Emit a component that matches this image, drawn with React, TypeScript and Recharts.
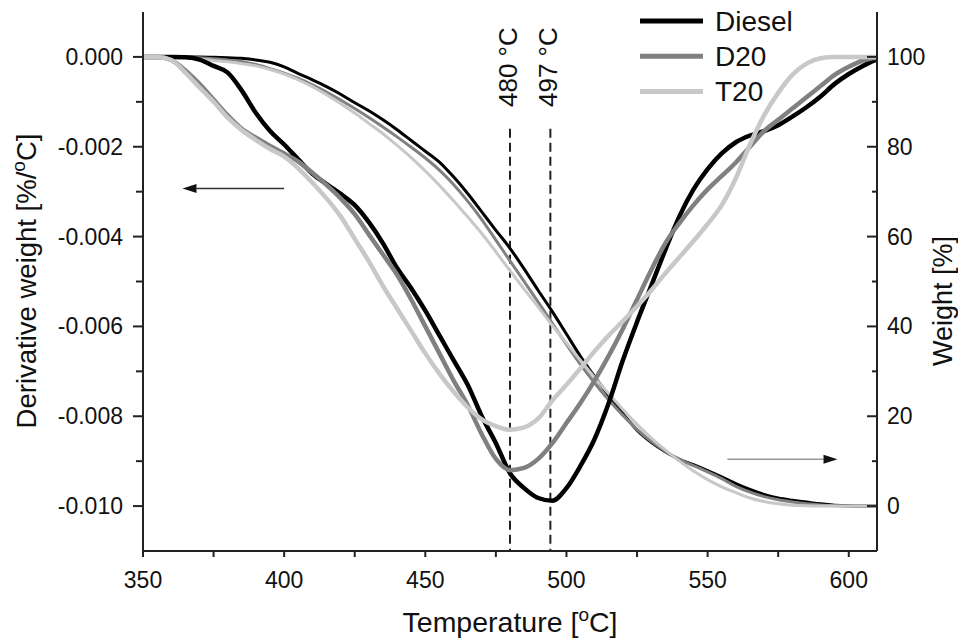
import React from 'react'
import { LineChart, Line, XAxis, YAxis, ReferenceLine, Legend } from 'recharts'

const FONT = '"Liberation Sans", Arial, sans-serif'

// temperature grid, °C
const temps = [
  350, 355, 360, 365, 370, 375, 380, 385, 390, 395, 400, 405, 410, 415, 420, 425, 430, 435,
  440, 445, 450, 455, 460, 465, 470, 475, 480, 485, 490, 495, 500, 505, 510, 515, 520, 525,
  530, 535, 540, 545, 550, 555, 560, 565, 570, 575, 580, 585, 590, 595, 600, 605, 610,
]

// derivative weight, %/°C (left axis)
const dtgDiesel = [
  0, 0, 0, -0.00001, -0.00006, -0.0002, -0.00035, -0.00075, -0.00125, -0.00165, -0.00195,
  -0.00228, -0.0026, -0.00283, -0.00305, -0.0033, -0.00368, -0.00415, -0.0047, -0.00515,
  -0.00565, -0.0062, -0.00675, -0.0073, -0.008, -0.0086, -0.00927, -0.0096, -0.00982, -0.00988,
  -0.0096, -0.0091, -0.0085, -0.0077, -0.00675, -0.0059, -0.0051, -0.0043, -0.00355,
  -0.00295, -0.0025, -0.00215, -0.0019, -0.00175, -0.00165, -0.00152, -0.00133, -0.00112,
  -0.00088, -0.0006, -0.00038, -0.0002, -0.00005,
]
const dtgD20 = [
  0, 0, -0.00007, -0.0003, -0.0006, -0.00095, -0.0013, -0.0016, -0.0018, -0.00198, -0.00215,
  -0.00233, -0.00258, -0.00285, -0.00315, -0.0035, -0.00395, -0.0044, -0.00485, -0.0054,
  -0.006, -0.0066, -0.0072, -0.00775, -0.0084, -0.00895, -0.0092, -0.00915, -0.00895, -0.0086,
  -0.00815, -0.0077, -0.0072, -0.00665, -0.00605, -0.0054, -0.00475, -0.00415, -0.0037,
  -0.0033, -0.00295, -0.00265, -0.00235, -0.002, -0.00165, -0.0014, -0.00115, -0.0009,
  -0.00065, -0.0004, -0.00022, -0.00008, -0.00002,
]
const dtgT20 = [
  0, 0, -0.00007, -0.00035, -0.00068, -0.001, -0.00135, -0.00163, -0.00185, -0.00205,
  -0.00222, -0.00248, -0.0028, -0.00315, -0.00355, -0.00405, -0.00455, -0.0051, -0.0056,
  -0.0061, -0.0066, -0.00705, -0.00745, -0.0078, -0.00807, -0.00822, -0.0083, -0.00825,
  -0.00805, -0.00765, -0.0073, -0.00693, -0.00655, -0.0062, -0.00588, -0.00555, -0.0052,
  -0.00482, -0.00446, -0.0041, -0.00372, -0.0033, -0.0027, -0.00195, -0.0013, -0.0008,
  -0.0004, -0.00015, -0.00003, 0, 0, 0, 0,
]

// weight, % (right axis)
const tgDiesel = [
  100, 100, 100, 100, 100, 99.9, 99.8, 99.7, 99.3, 98.8, 97.8, 96.3, 94.9, 93.4, 91.7, 89.8,
  88.0, 86.0, 83.8, 81.4, 79.0, 76.6, 73.3, 69.6, 65.5, 61.4, 57.4, 52.8, 48.0, 43.3, 38.3,
  33.3, 28.8, 24.6, 20.6, 16.9, 14.2, 12.1, 10.4, 9.2, 7.9, 6.5, 5.0, 3.7, 2.6, 1.8, 1.3, 0.9,
  0.5, 0.2, 0.05, 0, 0,
]
const tgD20 = [
  100, 100, 100, 99.9, 99.8, 99.6, 99.3, 99.0, 98.3, 97.4, 96.4, 95.2, 93.8, 92.2, 90.4, 88.5,
  86.5, 84.4, 82.2, 79.9, 77.5, 74.8, 71.6, 67.9, 63.8, 59.2, 54.6, 50.0, 45.4, 40.7, 36.0,
  31.5, 27.4, 23.6, 20.2, 17.1, 14.4, 12.2, 10.4, 9.0, 7.6, 6.1, 4.4, 3.1, 2.1, 1.4, 0.9, 0.5,
  0.25, 0.1, 0, 0, 0,
]
const tgT20 = [
  100, 100, 99.9, 99.8, 99.5, 99.2, 98.9, 98.5, 98.0, 97.2, 96.2, 94.9, 93.4, 91.6, 89.6, 87.5,
  85.2, 82.9, 80.3, 77.6, 74.6, 71.4, 68.0, 64.4, 60.7, 56.6, 52.4, 48.3, 44.3, 40.2, 36.3,
  32.4, 28.6, 25.0, 21.5, 18.2, 15.2, 12.5, 10.0, 7.8, 5.9, 4.3, 3.0, 1.8, 1.0, 0.5, 0.2, 0.05,
  0, 0, 0, 0, 0,
]

const seriesNames = ['Diesel', 'D20', 'T20']
const seriesColors = ['#000000', '#808080', '#c8c8c8']

const xTicks = [350, 375, 400, 425, 450, 475, 500, 525, 550, 575, 600]
const dtgTicks = [-0.01, -0.009, -0.008, -0.007, -0.006, -0.005, -0.004, -0.003, -0.002, -0.001, 0]
const tgTicks = [0, 10, 20, 30, 40, 50, 60, 70, 80, 90, 100]

// peak markers
const peakTemps = [480, 494.3]
const peakLabels = ['480 °C', '497 °C']

const data = temps.map((t, i) => ({
  t,
  dDiesel: dtgDiesel[i],
  dD20: dtgD20[i],
  dT20: dtgT20[i],
  wDiesel: tgDiesel[i],
  wD20: tgD20[i],
  wT20: tgT20[i],
}))

const AXIS = '#222'
const TXT = '#111'

function XTick({ x, y, payload }: any) {
  const major = payload.value % 50 === 0
  return (
    <g>
      <line x1={x} x2={x} y1={y} y2={y + 6} stroke={AXIS} strokeWidth={2} />
      {major && (
        <text x={x} y={y + 37} textAnchor="middle" fontSize={23} fill={TXT} fontFamily={FONT}>
          {payload.value}
        </text>
      )}
    </g>
  )
}

function LeftTick({ x, y, payload }: any) {
  const k = Math.round(-payload.value * 1000)
  const major = k % 2 === 0
  return (
    <g>
      <line x1={x - (major ? 10 : 7)} x2={x} y1={y} y2={y} stroke={AXIS} strokeWidth={2} />
      {major && (
        <text x={x - 20} y={y + 8} textAnchor="end" fontSize={23} fill={TXT} fontFamily={FONT}>
          {payload.value.toFixed(3)}
        </text>
      )}
    </g>
  )
}

function RightTick({ x, y, payload }: any) {
  const major = payload.value % 20 === 0
  return (
    <g>
      <line x1={x - (major ? 10 : 5)} x2={x} y1={y} y2={y} stroke={AXIS} strokeWidth={2} />
      {major && (
        <text x={x + 10} y={y + 8} textAnchor="start" fontSize={23} fill={TXT} fontFamily={FONT}>
          {payload.value}
        </text>
      )}
    </g>
  )
}

const xTitle = () => (
  <text x={510} y={632} textAnchor="middle" fontSize={28.5} fill={TXT} fontFamily={FONT}>
    Temperature [<tspan fontSize={19} dy={-11}>o</tspan>
    <tspan dy={11}>C]</tspan>
  </text>
)

const leftTitle = () => (
  <text transform="translate(36,281) rotate(-90)" textAnchor="middle" fontSize={27.5} fill={TXT} fontFamily={FONT}>
    Derivative weight [%/<tspan fontSize={19} dy={-11}>o</tspan>
    <tspan dy={11}>C]</tspan>
  </text>
)

const rightTitle = () => (
  <text transform="translate(952,301) rotate(-90)" textAnchor="middle" fontSize={27} fill={TXT} fontFamily={FONT}>
    Weight [%]
  </text>
)

const peakLabel = (text: string) => (props: any) => {
  const vb = props.viewBox || {}
  const x = (vb.x ?? 0) + 7
  return (
    <text transform={`translate(${x},107) rotate(-90)`} textAnchor="start" fontSize={26} fill={TXT} fontFamily={FONT}>
      {text}
    </text>
  )
}

const arrowShape = (lineColor: string) => (props: any) => {
  const { x1, y1, x2, y2 } = props
  const dir = x2 > x1 ? 1 : -1
  const hl = 14
  const hw = 4.5
  return (
    <g>
      <line x1={x1} y1={y1} x2={x2 - dir * hl} y2={y2} stroke={lineColor} strokeWidth={1.5} />
      <polygon points={`${x2},${y2} ${x2 - dir * hl},${y2 - hw} ${x2 - dir * hl},${y2 + hw}`} fill="#111" />
    </g>
  )
}

const renderLegend = () => (
  <svg width={200} height={110}>
    {seriesNames.map((n, i) => (
      <g key={n}>
        <line x1={10} x2={73} y1={21 + i * 35.3} y2={21 + i * 35.3} stroke={seriesColors[i]} strokeWidth={5} />
        <text x={85} y={21 + i * 35.3} dominantBaseline="central" fontSize={28} fill={TXT} fontFamily={FONT}>
          {n}
        </text>
      </g>
    ))}
  </svg>
)

export default function App() {
  return (
    <div style={{ position: 'absolute', left: 0, top: 0, background: '#fff' }}>
      <LineChart width={958} height={638} data={data} margin={{ top: 12, right: 0, bottom: 0, left: 0 }}>
        <XAxis
          dataKey="t"
          type="number"
          domain={[350, 610]}
          ticks={xTicks}
          interval={0}
          height={87}
          tickSize={0}
          tickMargin={0}
          tickLine={false}
          tick={<XTick />}
          axisLine={{ stroke: AXIS, strokeWidth: 2 }}
          allowDataOverflow
          label={xTitle}
        />
        <YAxis
          yAxisId="dtg"
          orientation="left"
          type="number"
          domain={[-0.011, 0.001]}
          ticks={dtgTicks}
          interval={0}
          width={143}
          tickSize={0}
          tickMargin={0}
          tickLine={false}
          tick={<LeftTick />}
          axisLine={{ stroke: AXIS, strokeWidth: 2 }}
          allowDataOverflow
          label={leftTitle}
        />
        <YAxis
          yAxisId="tg"
          orientation="right"
          type="number"
          domain={[-10, 110]}
          ticks={tgTicks}
          interval={0}
          width={81}
          tickSize={0}
          tickMargin={0}
          tickLine={false}
          tick={<RightTick />}
          axisLine={{ stroke: AXIS, strokeWidth: 2 }}
          allowDataOverflow
          label={rightTitle}
        />
        <Legend
          layout="vertical"
          align="center"
          verticalAlign="middle"
          wrapperStyle={{ top: 0, left: 630, width: 200, height: 110 }}
          content={renderLegend}
        />
        {peakTemps.map((pt, i) => (
          <ReferenceLine
            key={pt}
            yAxisId="dtg"
            segment={[{ x: pt, y: -0.0016 }, { x: pt, y: -0.011 }]}
            stroke="#222"
            strokeWidth={2}
            strokeDasharray="9 5"
            ifOverflow="visible"
            label={peakLabel(peakLabels[i])}
          />
        ))}
        <ReferenceLine
          yAxisId="dtg"
          segment={[{ x: 400, y: -0.00293 }, { x: 364, y: -0.00293 }]}
          ifOverflow="visible"
          shape={arrowShape('#333')}
        />
        <ReferenceLine
          yAxisId="tg"
          segment={[{ x: 557, y: 10.4 }, { x: 596, y: 10.4 }]}
          ifOverflow="visible"
          shape={arrowShape('#999')}
        />
        <Line yAxisId="tg" dataKey="wDiesel" stroke={seriesColors[0]} strokeWidth={3} type="monotone" dot={false} isAnimationActive={false} />
        <Line yAxisId="tg" dataKey="wD20" stroke={seriesColors[1]} strokeWidth={3} type="monotone" dot={false} isAnimationActive={false} />
        <Line yAxisId="tg" dataKey="wT20" stroke={seriesColors[2]} strokeWidth={3} type="monotone" dot={false} isAnimationActive={false} />
        <Line yAxisId="dtg" dataKey="dDiesel" stroke={seriesColors[0]} strokeWidth={4.5} type="monotone" dot={false} isAnimationActive={false} />
        <Line yAxisId="dtg" dataKey="dD20" stroke={seriesColors[1]} strokeWidth={4.5} type="monotone" dot={false} isAnimationActive={false} />
        <Line yAxisId="dtg" dataKey="dT20" stroke={seriesColors[2]} strokeWidth={4.5} type="monotone" dot={false} isAnimationActive={false} />
      </LineChart>
    </div>
  )
}
